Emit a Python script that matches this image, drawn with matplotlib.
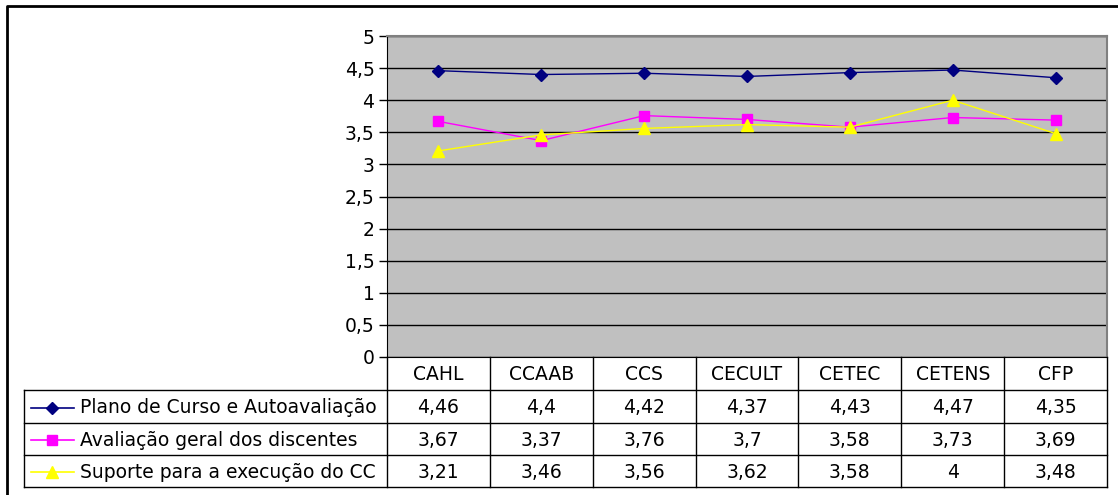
import matplotlib
matplotlib.use('Agg')
import matplotlib.pyplot as plt
from matplotlib.ticker import FuncFormatter

plt.rcParams['font.family'] = ['DejaVu Sans']

categories = ['CAHL', 'CCAAB', 'CCS', 'CECULT', 'CETEC', 'CETENS', 'CFP']
series_names = ['Plano de Curso e Autoavaliação',
                'Avaliação geral dos discentes',
                'Suporte para a execução do CC']
plano = [4.46, 4.4, 4.42, 4.37, 4.43, 4.47, 4.35]
avaliacao = [3.67, 3.37, 3.76, 3.7, 3.58, 3.73, 3.69]
suporte = [3.21, 3.46, 3.56, 3.62, 3.58, 4, 3.48]
yticks = [0, 0.5, 1, 1.5, 2, 2.5, 3, 3.5, 4, 4.5, 5]

series = [plano, avaliacao, suporte]
colors = ['#000080', '#FF00FF', '#FFFF00']
markers = ['D', 's', '^']
msizes = [6.5, 7, 8.5]
fs = 13.5

W, H = 1118, 495
fig = plt.figure(figsize=(W / 100, H / 100), dpi=100, facecolor='white')

# pixel layout
px_left, px_right = 387, 1107
px_top, px_zero = 36, 357
row_lines = [390, 423, 455, 487]
leg_left = 24


def fx(x):
    return x / W


def fy(y):
    return 1 - y / H


ax = fig.add_axes([fx(px_left), fy(px_zero), fx(px_right - px_left), (px_zero - px_top) / H])
ax.set_facecolor('#C0C0C0')
ax.set_xlim(-0.5, len(categories) - 0.5)
ax.set_ylim(0, 5)
ax.set_yticks(yticks)
ax.yaxis.set_major_formatter(FuncFormatter(lambda v, p: f"{v:g}".replace('.', ',')))
ax.tick_params(axis='y', direction='out', length=6, width=1, labelsize=fs, pad=3, colors='black')
ax.set_xticks([])
ax.grid(axis='y', color='black', linewidth=1)
ax.set_axisbelow(True)
for s in ['top', 'right']:
    ax.spines[s].set_color('#808080')
    ax.spines[s].set_linewidth(1.5)
ax.spines['bottom'].set_color('black')
ax.spines['left'].set_color('black')

x = list(range(len(categories)))
for vals, c, m, ms in zip(series, colors, markers, msizes):
    ax.plot(x, vals, color=c, marker=m, markersize=ms, linewidth=1,
            markeredgecolor=c, markerfacecolor=c, zorder=3)

# overlay in pixel coords for the data table
ov = fig.add_axes([0, 0, 1, 1], facecolor='none')
ov.set_xlim(0, W)
ov.set_ylim(H, 0)
ov.axis('off')

# outer chart border
ov.plot([7, 7, W + 5], [H + 5, 6, 6], color='black', linewidth=2, solid_capstyle='butt')

col_w = (px_right - px_left) / len(categories)
lc = 'black'
lw = 1
for i in range(len(categories) + 1):
    xx = px_left + i * col_w
    ov.plot([xx, xx], [px_zero, row_lines[-1]], color=lc, linewidth=lw)
ov.plot([leg_left, leg_left], [row_lines[0], row_lines[-1]], color=lc, linewidth=lw)
for yy in row_lines:
    ov.plot([leg_left, px_right], [yy, yy], color=lc, linewidth=lw)

# header
for i, cat in enumerate(categories):
    ov.text(px_left + (i + 0.5) * col_w, (px_zero + row_lines[0]) / 2 + 1, cat,
            ha='center', va='center', fontsize=fs)

# rows
for r, (name, vals, c, m, ms) in enumerate(zip(series_names, series, colors, markers, msizes)):
    yc = (row_lines[r] + row_lines[r + 1]) / 2 + 1
    ov.plot([31, 74], [yc, yc], color=c, linewidth=1.2)
    ov.plot([52], [yc], marker=m, markersize=ms, color=c, markeredgecolor=c)
    ov.text(80, yc, name, ha='left', va='center', fontsize=fs)
    for i, v in enumerate(vals):
        ov.text(px_left + (i + 0.5) * col_w, yc, f"{v:g}".replace('.', ','),
                ha='center', va='center', fontsize=fs)

fig.savefig('out.png', dpi=100, facecolor='white')
